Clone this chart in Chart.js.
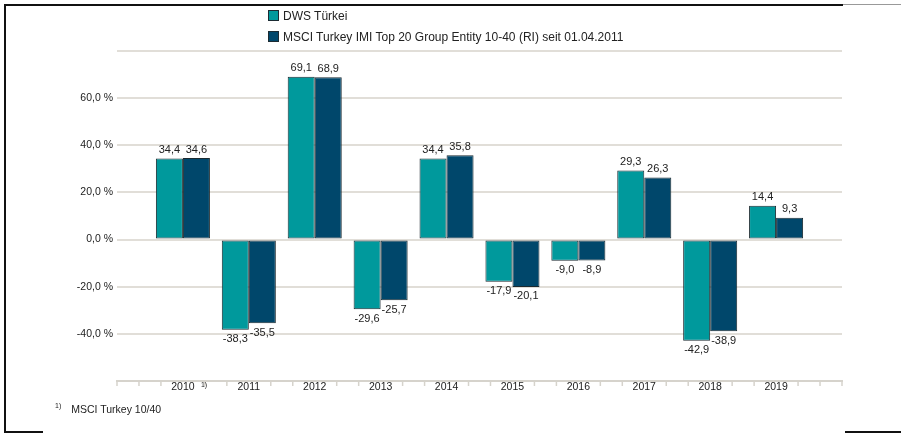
<!DOCTYPE html>
<html>
<head>
<meta charset="utf-8">
<script src="https://cdn.jsdelivr.net/npm/chart.js@4/dist/chart.umd.min.js"></script>
<style>
  body { margin: 0; background: #fff; font-family: "Liberation Sans", Arial, sans-serif; }
  #wrap { position: relative; width: 901px; height: 433px; overflow: hidden; }
  #chart { position: absolute; left: 0; top: 0; }
  .line { position: absolute; background: #111; }
  #legend { position: absolute; left: 268px; top: 9px; font-size: 12px; color: #222; }
  #legend div { height: 21px; line-height: 14px; white-space: nowrap; }
  #legend span.box { display: inline-block; width: 9px; height: 9px; border: 1px solid #1c2b33; vertical-align: -1px; margin-right: 4px; }
  #note { position: absolute; left: 55px; top: 402px; font-size: 10.5px; color: #222; }
  #note sup { font-size: 7px; margin-right: 10px; }
</style>
</head>
<body>
<div id="wrap">
  <canvas id="chart" width="901" height="433"></canvas>
  <div class="line" style="left:4px;top:4px;width:839px;height:1.5px;"></div>
  <div class="line" style="left:843px;top:4px;width:58px;height:1px;background:#999;"></div>
  <div class="line" style="left:4px;top:4px;width:1.5px;height:429px;"></div>
  <div class="line" style="left:4px;top:431px;width:39px;height:1.5px;"></div>
  <div class="line" style="left:845px;top:431px;width:56px;height:1.5px;"></div>
  <div id="legend"></div>
  <div id="note"><sup>1)</sup>MSCI Turkey 10/40</div>
</div>
<script>
// Jahre
const years = ['2010', '2011', '2012', '2013', '2014', '2015', '2016', '2017', '2018', '2019'];
// DWS Türkei (%)
const dwsValues = [34.4, -38.3, 69.1, -29.6, 34.4, -17.9, -9.0, 29.3, -42.9, 14.4];
// MSCI Benchmark (%)
const msciValues = [34.6, -35.5, 68.9, -25.7, 35.8, -20.1, -8.9, 26.3, -38.9, 9.3];
const seriesNames = ['DWS Türkei', 'MSCI Turkey IMI Top 20 Group Entity 10-40 (RI) seit 01.04.2011'];
const seriesColors = ['#00999c', '#00476b'];

// leere Kategorie vorne und hinten
const labels = [''].concat(years, ['']);
const pad = arr => [null].concat(arr, [null]);

const fmt = v => v.toFixed(1).replace('.', ',');

const valueLabels = {
    id: 'valueLabels',
    afterDatasetsDraw(chart) {
        const c = chart.ctx;
        c.save();
        c.font = '11px "Liberation Sans", Arial, sans-serif';
        c.fillStyle = '#222';
        c.textAlign = 'center';
        chart.data.datasets.forEach((ds, di) => {
            chart.getDatasetMeta(di).data.forEach((bar, i) => {
                const v = ds.data[i];
                if (v === null) return;
                if (v >= 0) {
                    c.textBaseline = 'bottom';
                    c.fillText(fmt(v), bar.x, bar.y - 3);
                } else {
                    c.textBaseline = 'top';
                    c.fillText(fmt(v), bar.x, bar.y + 4);
                }
            });
        });
        c.restore();
    }
};

// kleine Striche an der x-Achse + Fußnotenzeichen bei 2010
const axisDeco = {
    id: 'axisDeco',
    afterDraw(chart) {
        const x = chart.scales.x;
        const c = chart.ctx;
        const step = x.getPixelForValue(1) - x.getPixelForValue(0);
        c.save();
        c.strokeStyle = '#d6d3cc';
        c.lineWidth = 1.5;
        for (let i = 0; i < labels.length; i++) {
            for (let k = 0; k < 3; k++) {
                if (k === 0 && labels[i] !== '') continue;
                if (i === labels.length - 1 && k > 0) continue;
                const px = x.getPixelForValue(i) + k * step / 3;
                c.beginPath();
                c.moveTo(px, x.top);
                c.lineTo(px, x.top + 5);
                c.stroke();
            }
        }
        c.font = '7px "Liberation Sans", Arial, sans-serif';
        c.fillStyle = '#222';
        c.textBaseline = 'top';
        c.fillText('1)', x.getPixelForValue(1) + 18, x.top + 1);
        c.restore();
    }
};

const config = {
    type: 'bar',
    data: {
        labels: labels,
        datasets: [
            {
                label: seriesNames[0],
                data: pad(dwsValues),
                backgroundColor: seriesColors[0],
                borderColor: '#1b2a30',
                borderWidth: 1,
                borderSkipped: false
            },
            {
                label: seriesNames[1],
                data: pad(msciValues),
                backgroundColor: seriesColors[1],
                borderColor: '#1b2a30',
                borderWidth: 1,
                borderSkipped: false
            }
        ]
    },
    options: {
        responsive: false,
        animation: false,
        categoryPercentage: 0.82,
        barPercentage: 1,
        layout: { padding: { top: 51, right: 59, left: 0, bottom: 0 } },
        plugins: {
            legend: { display: false },
            tooltip: { enabled: false }
        },
        scales: {
            x: {
                offset: false,
                afterFit: s => { s.height = 52; },
                grid: { display: false, drawTicks: false },
                border: { display: true, color: '#d6d3cc', width: 2 },
                ticks: {
                    padding: 0,
                    autoSkip: false,
                    maxRotation: 0,
                    color: '#222',
                    font: { family: '"Liberation Sans", Arial, sans-serif', size: 10.5 }
                }
            },
            y: {
                min: -60,
                max: 80,
                afterFit: s => { s.width = 117; },
                border: { display: false },
                grid: {
                    drawTicks: false,
                    color: '#e1ded8',
                    lineWidth: 2
                },
                ticks: {
                    stepSize: 20,
                    padding: 4,
                    color: '#222',
                    font: { family: '"Liberation Sans", Arial, sans-serif', size: 10.5 },
                    callback: v => (v >= 80 || v <= -60) ? '' : fmt(v) + ' %'
                }
            }
        }
    },
    plugins: [valueLabels, axisDeco]
};

// Legende untereinander
const legend = document.getElementById('legend');
seriesNames.forEach((name, i) => {
    const row = document.createElement('div');
    row.innerHTML = '<span class="box" style="background:' + seriesColors[i] + '"></span>' + name;
    legend.appendChild(row);
});

const chart = new Chart(document.getElementById('chart'), config);
</script>
</body>
</html>
